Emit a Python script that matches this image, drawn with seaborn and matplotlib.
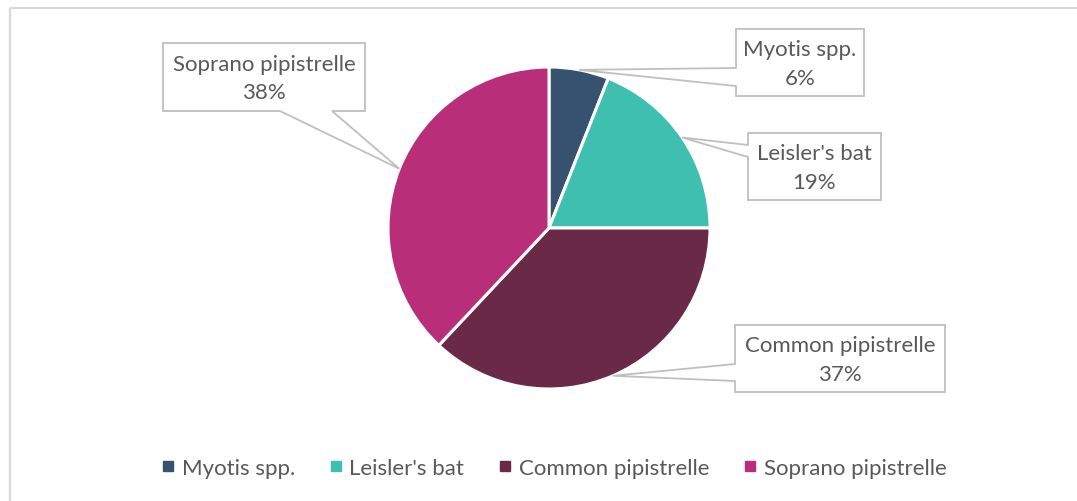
import matplotlib
matplotlib.use("Agg")
import matplotlib.pyplot as plt
from matplotlib.patches import Polygon
from matplotlib.lines import Line2D
import numpy as np
import seaborn as sns

# Bat species share of recorded passes
species = ["Myotis spp.", "Leisler's bat", "Common pipistrelle", "Soprano pipistrelle"]
shares = [6, 19, 37, 38]
colors = ["#375170", "#3FBFB0", "#6A2A47", "#B82E78"]

sns.set_theme(style="white")
plt.rcParams["font.family"] = ["Lato", "DejaVu Sans"]

W, H = 1077, 502
fig = plt.figure(figsize=(W / 100, H / 100), dpi=100)
ax = fig.add_axes([0, 0, 1, 1])


def py(y):
    """Convert a top-down pixel row into axes y."""
    return H - y


cx, cy, r = 549, 229, 161
wedges, _ = ax.pie(
    shares, colors=colors, startangle=90, counterclock=False,
    center=(cx, py(cy)), radius=r, frame=True,
    wedgeprops=dict(edgecolor="white", linewidth=2.2),
)
ax.set_xlim(0, W)
ax.set_ylim(0, H)
ax.set_aspect("equal")
ax.axis("off")

text_color = "#595959"
edge_color = "#BFBFBF"
fs = 16

# Callout boxes: (left, top, right, bottom, side, base_a, base_b)
boxes = [
    (736, 30, 864, 97, "left", 69, 87),
    (748, 134, 881, 201, "left", 146, 158),
    (735, 326, 945, 393, "left", 365, 382),
    (163, 44, 365, 112, "bottom", 280, 332),
]

cum = np.cumsum([0] + shares)
total = sum(shares)
for i, (name, val) in enumerate(zip(species, shares)):
    mid = 90 - (cum[i] + val / 2) / total * 360
    tx = cx + r * np.cos(np.radians(mid))
    ty = cy - r * np.sin(np.radians(mid))
    left, top, right, bottom, side, a, b = boxes[i]
    if side == "left":
        pts = [(left, top), (right, top), (right, bottom), (left, bottom),
               (left, b), (tx, ty), (left, a)]
    else:
        pts = [(left, top), (right, top), (right, bottom), (b, bottom),
               (tx, ty), (a, bottom), (left, bottom)]
    poly = Polygon([(x, py(y)) for x, y in pts], closed=True,
                   facecolor="white", edgecolor=edge_color, linewidth=1.3,
                   zorder=3)
    ax.add_patch(poly)
    ax.text((left + right) / 2, py((top + bottom) / 2 + 1), f"{name}\n{val}%",
            ha="center", va="center", fontsize=fs, color=text_color,
            linespacing=1.55, zorder=4)

# Chart frame
ax.plot([9.5, W], [py(8.5), py(8.5)], color="#D9D9D9", lw=1.6,
        solid_capstyle="butt", clip_on=False)
ax.plot([9.5, 9.5], [py(8.5), 0], color="#D9D9D9", lw=1.6,
        solid_capstyle="butt", clip_on=False)

handles = [Line2D([0], [0], marker="s", linestyle="none", markersize=7,
                  markerfacecolor=c, markeredgecolor=c) for c in colors]
fig.legend(handles, species, loc="center", bbox_to_anchor=(553 / W, 1 - 469 / H),
           ncol=4, frameon=False, fontsize=fs, labelcolor=text_color,
           handletextpad=0.2, columnspacing=1.45, handlelength=0.8)

fig.savefig("out.png", dpi=100, facecolor="white")
